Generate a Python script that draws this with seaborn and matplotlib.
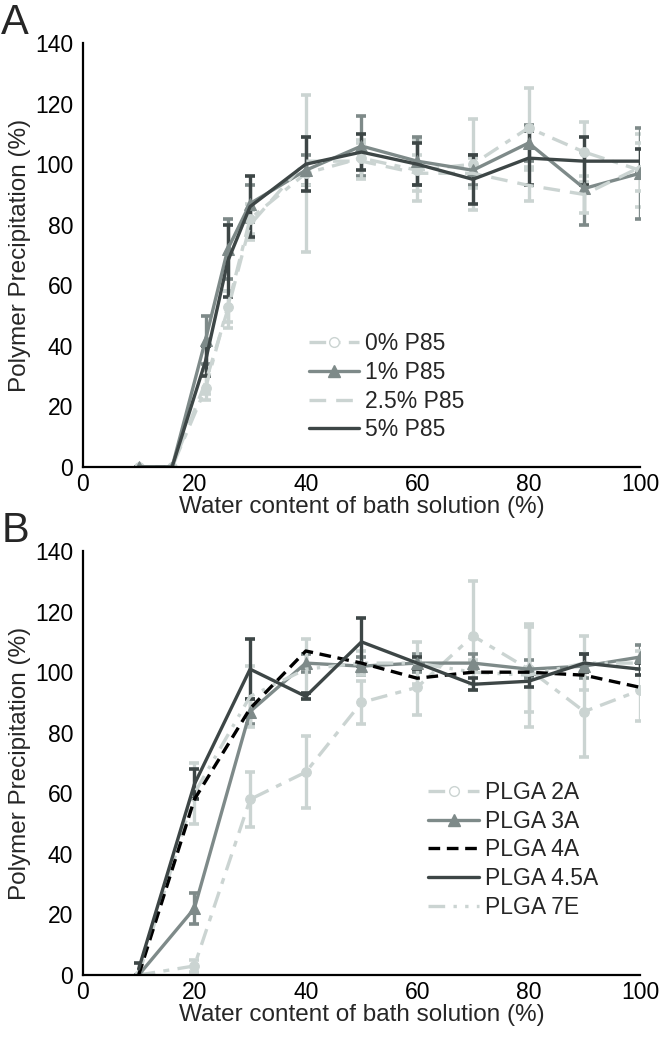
import matplotlib
matplotlib.use("Agg")
import matplotlib.pyplot as plt
import seaborn as sns
import pandas as pd
from matplotlib.lines import Line2D

# ---------------- data ----------------
x_a = [10, 16, 22, 26, 30, 40, 50, 60, 70, 80, 90, 100]
a_p0 = [0, 0, 26, 53, 82, 97, 102, 98, 100, 112, 104, 98]
a_p0_err = [0, 0, 4, 5, 5, 26, 6, 10, 15, 13, 10, 12]
a_p1 = [0, 0, 42, 72, 87, 98, 106, 101, 98, 107, 92, 97]
a_p1_err = [0, 0, 8, 10, 6, 5, 10, 8, 5, 6, 12, 15]
a_p25 = [0, 0, 28, 52, 80, 101, 101, 97, 97, 93, 90, 99]
a_p25_err = [0, 0, 4, 6, 5, 8, 6, 6, 5, 5, 6, 8]
a_p5 = [0, 0, 35, 68, 86, 100, 104, 100, 95, 102, 101, 101]
a_p5_err = [0, 0, 5, 12, 10, 9, 6, 7, 8, 9, 8, 4]
labels_a = ["0% P85", "1% P85", "2.5% P85", "5% P85"]

x_b = [10, 20, 30, 40, 50, 60, 70, 80, 90, 100]
b_2a = [0, 3, 58, 67, 90, 95, 112, 101, 87, 94]
b_2a_err = [0, 2, 9, 12, 7, 9, 18, 14, 15, 10]
b_3a = [0, 22, 87, 103, 102, 103, 103, 101, 102, 105]
b_3a_err = [0, 5, 4, 3, 3, 3, 3, 3, 4, 4]
b_4a = [0, 58, 88, 107, 103, 98, 100, 100, 99, 95]
b_45a = [2, 63, 101, 92, 110, 103, 96, 97, 103, 101]
b_45a_err = [2, 5, 10, 1, 8, 2, 2, 2, 3, 2]
b_7e = [0, 60, 92, 101, 103, 103, 100, 99, 103, 103]
b_7e_err = [0, 10, 10, 10, 4, 7, 4, 17, 9, 4]
labels_b = ["PLGA 2A", "PLGA 3A", "PLGA 4A", "PLGA 4.5A", "PLGA 7E"]

x_ticks = [0, 20, 40, 60, 80, 100]
y_ticks = [0, 20, 40, 60, 80, 100, 120, 140]

# ---------------- style ----------------
LIGHT = "#cbd4d2"
MID = "#7e8a89"
DARK = "#3d4646"
BLACK = "#000000"

sns.set_style("white")
plt.rcParams["font.family"] = ["Liberation Sans", "DejaVu Sans"]

fig = plt.figure(figsize=(6.67, 10.5), dpi=100)
axA = fig.add_axes([0.1244, 0.5552, 0.8351, 0.4038])
axB = fig.add_axes([0.1244, 0.0714, 0.8351, 0.4038])

LW = 2.4
DASHDOT = (0, (5, 2.5, 1.8, 2.5))
DASHED_LONG = (0, (5, 3))
DASHED_BLK = (0, (3.5, 2))
DASHDOTDOT = (0, (5, 2.5, 1, 2.5, 1, 2.5))

TICK_FS = 16.5
LABEL_FS = 17.5
LEG_FS = 16.5


def draw(ax, x, y, err, color, ls, marker, msize):
    df = pd.DataFrame({"x": x, "y": y})
    if err is not None:
        ax.errorbar(x, y, yerr=err, fmt="none", ecolor=color, elinewidth=2.4,
                    capsize=3.5, capthick=2.6, zorder=2)
    kw = dict(marker=marker, markersize=msize, markeredgecolor=color,
              markerfacecolor=color) if marker else {}
    sns.lineplot(data=df, x="x", y="y", ax=ax, color=color, linewidth=LW,
                 linestyle=ls, errorbar=None, sort=False, zorder=3, **kw)


# Panel A
draw(axA, x_a, a_p0, a_p0_err, LIGHT, DASHDOT, "o", 7)
draw(axA, x_a, a_p1, a_p1_err, MID, "-", "^", 8)
draw(axA, x_a, a_p25, a_p25_err, LIGHT, DASHED_LONG, None, 0)
draw(axA, x_a, a_p5, a_p5_err, DARK, "-", None, 0)

# Panel B
draw(axB, x_b, b_2a, b_2a_err, LIGHT, DASHDOT, "o", 7)
draw(axB, x_b, b_3a, b_3a_err, MID, "-", "^", 8)
draw(axB, x_b, b_7e, b_7e_err, LIGHT, DASHDOTDOT, None, 0)
draw(axB, x_b, b_4a, None, BLACK, DASHED_BLK, None, 0)
draw(axB, x_b, b_45a, b_45a_err, DARK, "-", None, 0)

for ax in (axA, axB):
    ax.set_xlim(0, 100)
    ax.set_ylim(0, 140)
    ax.set_xticks(x_ticks)
    ax.set_yticks(y_ticks)
    ax.set_xticklabels([str(v) for v in x_ticks])
    ax.set_yticklabels([str(v) for v in y_ticks])
    sns.despine(ax=ax)
    for s in ("left", "bottom"):
        ax.spines[s].set_color("black")
        ax.spines[s].set_linewidth(1.6)
    ax.tick_params(direction="in", length=5, width=1.6, colors="black",
                   labelsize=TICK_FS, pad=4)
    ax.tick_params(axis="y", pad=7)
    ax.set_xlabel("Water content of bath solution (%)", fontsize=LABEL_FS,
                  labelpad=0)
    ax.set_ylabel("Polymer Precipitation (%)", fontsize=LABEL_FS, labelpad=3)
    ax.set_facecolor("white")
    for sp in ax.spines.values():
        sp.set_zorder(5)


def handle(color, ls, marker=None, ms=0, face=None):
    return Line2D([0], [0], color=color, linewidth=LW, linestyle=ls,
                  marker=marker if marker else "None", markersize=ms,
                  markeredgecolor=color,
                  markerfacecolor=face if face else color)


hA = [handle(LIGHT, DASHDOT, "o", 7, "white"), handle(MID, "-", "^", 8),
      handle(LIGHT, DASHED_LONG), handle(DARK, "-")]
axA.legend(hA, labels_a, loc="center left", bbox_to_anchor=(0.405, 0.189),
           frameon=False, fontsize=LEG_FS, handlelength=2.2, handletextpad=0.27,
           labelspacing=0.25, borderpad=0, borderaxespad=0)

hB = [handle(LIGHT, DASHDOT, "o", 7, "white"), handle(MID, "-", "^", 8),
      handle(BLACK, DASHED_BLK), handle(DARK, "-"), handle(LIGHT, DASHDOTDOT)]
axB.legend(hB, labels_b, loc="center left", bbox_to_anchor=(0.62, 0.295),
           frameon=False, fontsize=LEG_FS, handlelength=2.2, handletextpad=0.27,
           labelspacing=0.25, borderpad=0, borderaxespad=0)

fig.text(0.002, 0.997, "A", fontsize=30, va="top", ha="left")
fig.text(0.002, 0.513, "B", fontsize=30, va="top", ha="left")

fig.savefig("out.png", dpi=100, facecolor="white")
